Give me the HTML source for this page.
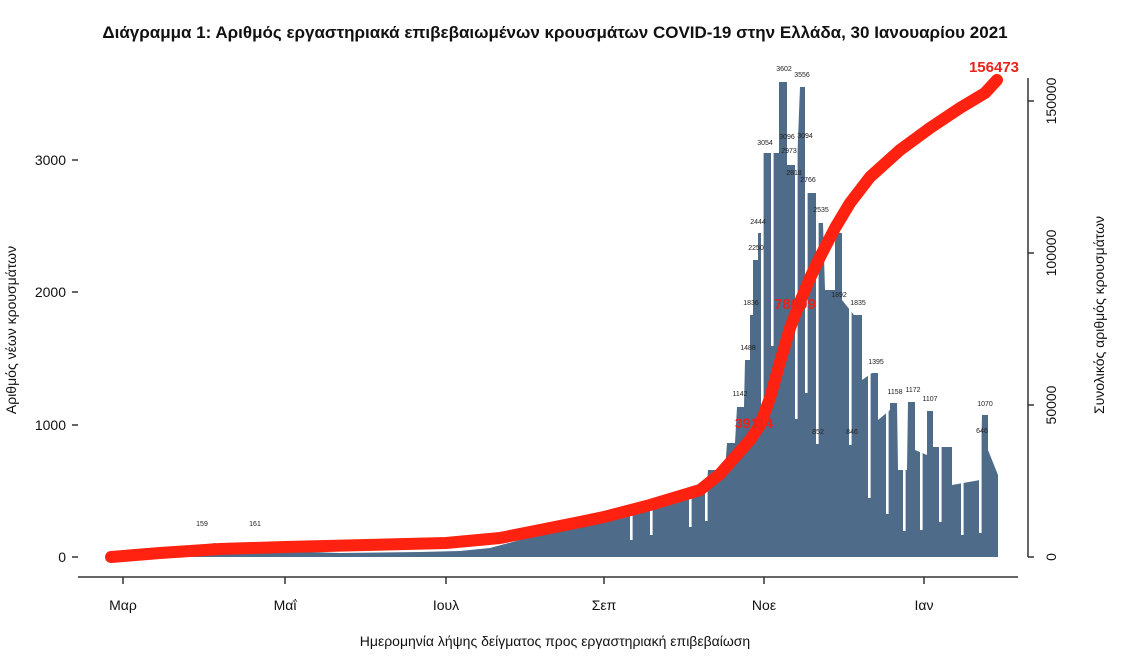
<!DOCTYPE html>
<html><head><meta charset="utf-8"><style>
body{margin:0;background:#fff;font-family:"Liberation Sans","DejaVu Sans",sans-serif}
</style></head><body>
<svg width="1126" height="664" xmlns="http://www.w3.org/2000/svg" font-family="Liberation Sans, DejaVu Sans, sans-serif" style="display:block">
<rect width="1126" height="664" fill="#fff"/>
<text x="555" y="38" text-anchor="middle" font-size="17" font-weight="bold" fill="#111">Διάγραμμα 1: Αριθμός εργαστηριακά επιβεβαιωμένων κρουσμάτων COVID-19 στην Ελλάδα, 30 Ιανουαρίου 2021</text>
<path fill="#4e6b89" d="M111 557 L111 555 L150 551 L200 545 L215 543 L230 549 L280 551 L340 553 L420 552 L460 551 L490 548 L520 540 L540 530 L560 522 L580 518 L600 516 L620 512 L640 508 L660 505 L680 500 L700 490 L707 480 L708 470 L725 470 L727 443 L735 443 L737 407 L744 407 L745 360 L750 360 L750 315 L753 315 L753 260 L758 260 L758 233 L763 233 L763 153 L779 153 L779 82 L787 82 L787 165 L797 165 L800 87 L807 87 L807 193 L817 193 L818 223 L823 223 L825 290 L835 290 L835 233 L842 233 L842 300 L854 315 L862 315 L862 380 L872 373 L878 373 L878 420 L890 410 L890 403 L897 403 L898 470 L907 470 L908 402 L915 402 L915 450 L927 455 L927 411 L933 411 L933 447 L952 447 L952 485 L980 480 L982 415 L988 415 L988 450 L992 460 L998 475 L998 557 Z"/>
<g fill="#fff">
<rect x="761" y="60" width="2.6" height="355"/>
<rect x="771" y="60" width="2.6" height="286"/>
<rect x="795" y="60" width="2.6" height="359"/>
<rect x="805" y="60" width="2.6" height="333"/>
<rect x="816" y="60" width="2.6" height="384"/>
<rect x="849" y="60" width="2.6" height="385"/>
<rect x="868" y="60" width="2.6" height="438"/>
<rect x="886" y="60" width="2.6" height="454"/>
<rect x="903" y="60" width="2.6" height="471"/>
<rect x="920" y="60" width="2.6" height="470"/>
<rect x="939" y="60" width="2.6" height="462"/>
<rect x="961" y="60" width="2.6" height="475"/>
<rect x="979" y="60" width="2.6" height="473"/>
<rect x="705" y="60" width="2.6" height="461"/>
<rect x="689" y="60" width="2.6" height="467"/>
<rect x="650" y="60" width="2.6" height="475"/>
<rect x="630" y="60" width="2.6" height="480"/>
</g>
<path fill="none" stroke="#ff2210" stroke-width="12" stroke-linecap="round" stroke-linejoin="round" d="M111 557 L160 553 L220 549 L285 547 L446 543 L500 538 L540 530 L580 522 L604 517 L650 505 L700 490 L720 474 L735 457 L750 440 L760 425 L770 398 L780 362 L790 328 L800 302 L810 278 L820 257 L835 228 L850 203 L870 177 L900 150 L930 128 L960 108 L985 93 L997 80"/>
<line x1="78" y1="577" x2="1018" y2="577" stroke="#333" stroke-width="1.5"/>
<g stroke="#333" stroke-width="1.5">
<line x1="123" y1="577" x2="123" y2="584"/><line x1="285" y1="577" x2="285" y2="584"/>
<line x1="446" y1="577" x2="446" y2="584"/><line x1="604" y1="577" x2="604" y2="584"/>
<line x1="764" y1="577" x2="764" y2="584"/><line x1="924" y1="577" x2="924" y2="584"/>
<line x1="72" y1="557" x2="78" y2="557"/><line x1="72" y1="425" x2="78" y2="425"/>
<line x1="72" y1="292" x2="78" y2="292"/><line x1="72" y1="160" x2="78" y2="160"/>
<line x1="1028" y1="557" x2="1028" y2="78"/>
<line x1="1028" y1="557" x2="1034" y2="557"/><line x1="1028" y1="405" x2="1034" y2="405"/>
<line x1="1028" y1="253" x2="1034" y2="253"/><line x1="1028" y1="101" x2="1034" y2="101"/>
</g>
<g font-size="14" fill="#111" text-anchor="middle">
<text x="123" y="610">Μαρ</text><text x="285" y="610">Μαΐ</text><text x="446" y="610">Ιουλ</text>
<text x="604" y="610">Σεπ</text><text x="764" y="610">Νοε</text><text x="924" y="610">Ιαν</text>
</g>
<g font-size="14" fill="#111" text-anchor="end">
<text x="66" y="562">0</text><text x="66" y="430">1000</text><text x="66" y="297">2000</text><text x="66" y="165">3000</text>
</g>
<g font-size="14" fill="#111" text-anchor="middle">
<text transform="translate(1056,557) rotate(-90)">0</text>
<text transform="translate(1056,405) rotate(-90)">50000</text>
<text transform="translate(1056,253) rotate(-90)">100000</text>
<text transform="translate(1056,101) rotate(-90)">150000</text>
<text transform="translate(1104,315) rotate(-90)">Συνολικός αριθμός κρουσμάτων</text>
<text transform="translate(16,330) rotate(-90)">Αριθμός νέων κρουσμάτων</text>
<text x="555" y="646">Ημερομηνία λήψης δείγματος προς εργαστηριακή επιβεβαίωση</text>
</g>
<g font-size="7" fill="#222" text-anchor="middle">
<text x="784" y="71">3602</text><text x="802" y="77">3556</text><text x="765" y="145">3054</text>
<text x="787" y="139">3096</text><text x="805" y="138">3094</text><text x="789" y="153">2973</text>
<text x="794" y="175">2818</text><text x="808" y="182">2766</text><text x="821" y="212">2535</text>
<text x="758" y="224">2444</text><text x="756" y="250">2250</text><text x="751" y="305">1836</text>
<text x="858" y="305">1835</text><text x="839" y="297">1892</text><text x="748" y="350">1488</text>
<text x="876" y="364">1395</text><text x="740" y="396">1142</text><text x="895" y="394">1158</text>
<text x="913" y="392">1172</text><text x="930" y="401">1107</text><text x="985" y="406">1070</text>
<text x="818" y="434">852</text><text x="852" y="434">846</text><text x="982" y="433">646</text>
<text x="202" y="526">159</text><text x="255" y="526">161</text>
</g>
<g font-weight="bold" fill="#e8231b" text-anchor="middle">
<text x="994" y="72" font-size="15">156473</text>
<text x="795" y="309" font-size="15">78009</text>
<text x="754" y="428" font-size="14">39114</text>
</g>
</svg>
</body></html>
